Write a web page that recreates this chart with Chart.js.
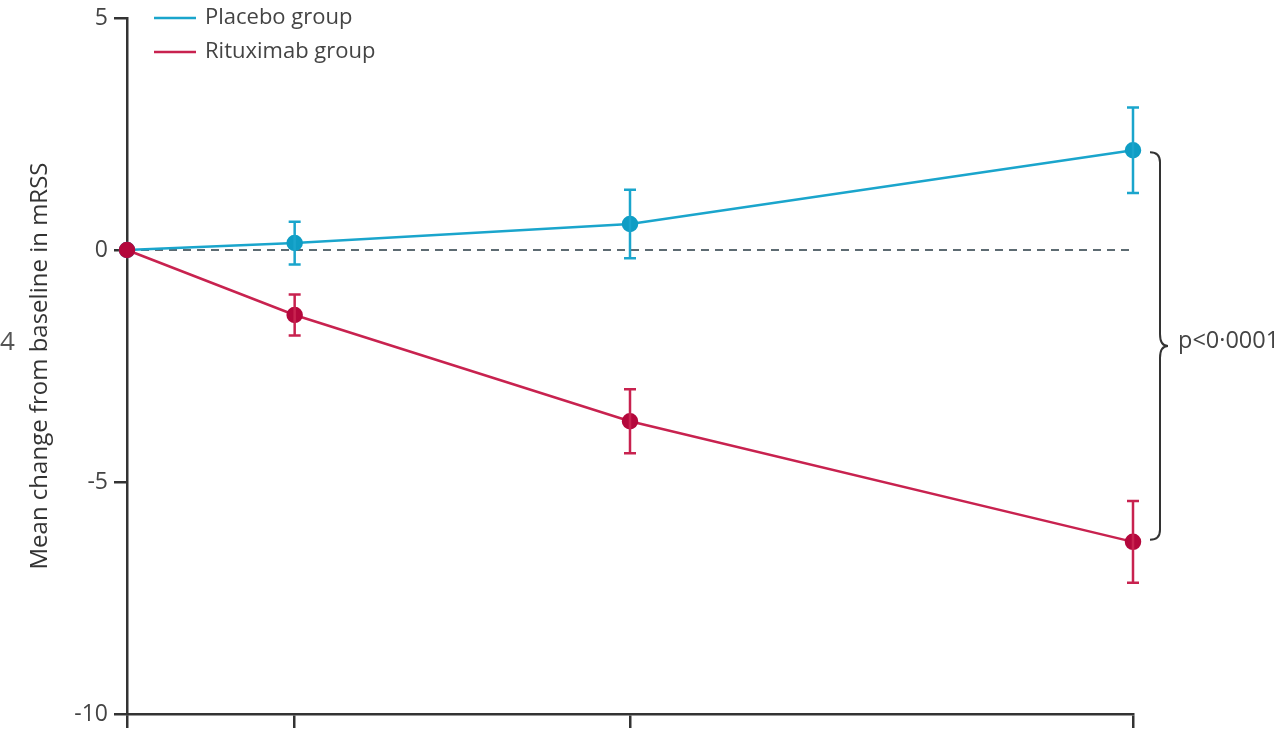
<!DOCTYPE html>
<html>
<head>
<meta charset="utf-8">
<script src="https://cdn.jsdelivr.net/npm/chart.js@4/dist/chart.umd.min.js"></script>
<style>
  html, body { margin: 0; padding: 0; background: #fff; }
  #wrap { position: relative; width: 1288px; height: 731px; }
  #cut { position: absolute; left: 0px; top: 322px; font: 26px "Open Sans", sans-serif; color: #555; }
</style>
</head>
<body>
<div id="wrap">
  <canvas id="chart" width="1288" height="731"></canvas>
  <div id="cut">4</div>
</div>
<script>
// weeks since baseline (x axis has no printed labels in the crop)
const weeks = [0, 4, 12, 24];
const yTicks = [5, 0, -5, -10];

const placeboMean = [0, 0.15, 0.56, 2.15];
const placeboErr = [0, 0.46, 0.74, 0.92];
const rituximabMean = [0, -1.40, -3.69, -6.29];
const rituximabErr = [0, 0.44, 0.69, 0.88];

const seriesNames = ["Placebo group", "Rituximab group"];
const pLabel = "p<0·0001";

const blue = "#1aa5cc";
const blueDot = "#0f9dc4";
const red = "#c8224f";
const redDot = "#b4083c";
const axisColor = "#333";
const textColor = "#444";
const fontFamily = "'Open Sans', sans-serif";

function pts(means) {
    return weeks.map((w, i) => ({ x: w, y: means[i] }));
}

// error bars, zero line, legend and the bracket with p value
const extras = {
    id: "extras",
    beforeDatasetsDraw(chart) {
        const ctx = chart.ctx;
        const xs = chart.scales.x, ys = chart.scales.y;
        ctx.save();
        ctx.strokeStyle = "#5d6b72";
        ctx.lineWidth = 2;
        ctx.setLineDash([8, 6]);
        ctx.beginPath();
        ctx.moveTo(xs.getPixelForValue(0), ys.getPixelForValue(0));
        ctx.lineTo(xs.getPixelForValue(24), ys.getPixelForValue(0));
        ctx.stroke();
        ctx.restore();
    },
    afterDatasetsDraw(chart) {
        const ctx = chart.ctx;
        const xs = chart.scales.x, ys = chart.scales.y;
        ctx.save();
        const groups = [[placeboMean, placeboErr, blue], [rituximabMean, rituximabErr, red]];
        groups.forEach(([m, e, col]) => {
            ctx.strokeStyle = col;
            ctx.lineWidth = 2.5;
            weeks.forEach((w, i) => {
                if (!e[i]) return;
                const x = xs.getPixelForValue(w);
                const top = ys.getPixelForValue(m[i] + e[i]);
                const bot = ys.getPixelForValue(m[i] - e[i]);
                ctx.beginPath();
                ctx.moveTo(x, top); ctx.lineTo(x, bot);
                ctx.moveTo(x - 6, top); ctx.lineTo(x + 6, top);
                ctx.moveTo(x - 6, bot); ctx.lineTo(x + 6, bot);
                ctx.stroke();
            });
        });

        // legend
        ctx.font = "22px " + fontFamily;
        ctx.textBaseline = "middle";
        [[blue, 18], [red, 52]].forEach(([col, y], i) => {
            ctx.strokeStyle = col;
            ctx.lineWidth = 2.5;
            ctx.beginPath();
            ctx.moveTo(154, y); ctx.lineTo(196, y);
            ctx.stroke();
            ctx.fillStyle = textColor;
            ctx.fillText(seriesNames[i], 205, y);
        });

        // brace between the week-24 means
        const last = weeks.length - 1;
        const yTop = ys.getPixelForValue(placeboMean[last]);
        const yBot = ys.getPixelForValue(rituximabMean[last]);
        const yMid = (yTop + yBot) / 2;
        const x0 = 1150, x1 = 1160, x2 = 1168;
        ctx.strokeStyle = axisColor;
        ctx.lineWidth = 2;
        ctx.beginPath();
        ctx.moveTo(x0, yTop + 2);
        ctx.quadraticCurveTo(x1, yTop + 2, x1, yTop + 12);
        ctx.lineTo(x1, yMid - 12);
        ctx.quadraticCurveTo(x1, yMid, x2, yMid);
        ctx.quadraticCurveTo(x1, yMid, x1, yMid + 12);
        ctx.lineTo(x1, yBot - 12);
        ctx.quadraticCurveTo(x1, yBot - 2, x0, yBot - 2);
        ctx.stroke();
        ctx.fillStyle = textColor;
        ctx.font = "23.5px " + fontFamily;
        ctx.textBaseline = "middle";
        ctx.fillText(pLabel, 1178, yMid - 5);
        ctx.restore();
    }
};

new Chart(document.getElementById("chart"), {
    type: "line",
    data: {
        datasets: [
            {
                label: seriesNames[1],
                data: pts(rituximabMean),
                borderColor: red,
                backgroundColor: redDot,
                pointBackgroundColor: redDot,
                pointBorderColor: redDot,
                pointRadius: 7,
                borderWidth: 2.5,
                clip: false
            },
            {
                label: seriesNames[0],
                data: pts(placeboMean),
                borderColor: blue,
                backgroundColor: blueDot,
                pointBackgroundColor: blueDot,
                pointBorderColor: blueDot,
                pointRadius: 7,
                borderWidth: 2.5,
                clip: false
            }
        ]
    },
    options: {
        responsive: false,
        animation: false,
        layout: { padding: { left: 0, top: 18, right: 155, bottom: 0 } },
        plugins: { legend: { display: false }, tooltip: { enabled: false } },
        scales: {
            x: {
                type: "linear",
                min: 0,
                max: 24,
                afterBuildTicks: (scale) => { scale.ticks = weeks.map(v => ({ value: v })); },
                afterFit: (scale) => { scale.height = 17; scale.paddingLeft = 0; scale.paddingRight = 0; },
                grid: { drawOnChartArea: false, color: axisColor, lineWidth: 2.5, tickLength: 14 },
                border: { color: axisColor, width: 2.5 },
                ticks: { callback: () => "" }
            },
            y: {
                min: -10,
                max: 5,
                afterBuildTicks: (scale) => { scale.ticks = yTicks.map(v => ({ value: v })); },
                afterFit: (scale) => { scale.width = 127; scale.paddingTop = 0; scale.paddingBottom = 0; },
                grid: { drawOnChartArea: false, color: axisColor, lineWidth: 2.5, tickLength: 13 },
                border: { color: axisColor, width: 2.5 },
                ticks: { color: textColor, font: { family: fontFamily, size: 23 }, padding: 6 },
                title: {
                    display: true,
                    text: "Mean change from baseline in mRSS",
                    color: "#333",
                    font: { family: fontFamily, size: 24 },
                    padding: { top: 26, bottom: 0 }
                }
            }
        }
    },
    plugins: [extras]
});
</script>
</body>
</html>
